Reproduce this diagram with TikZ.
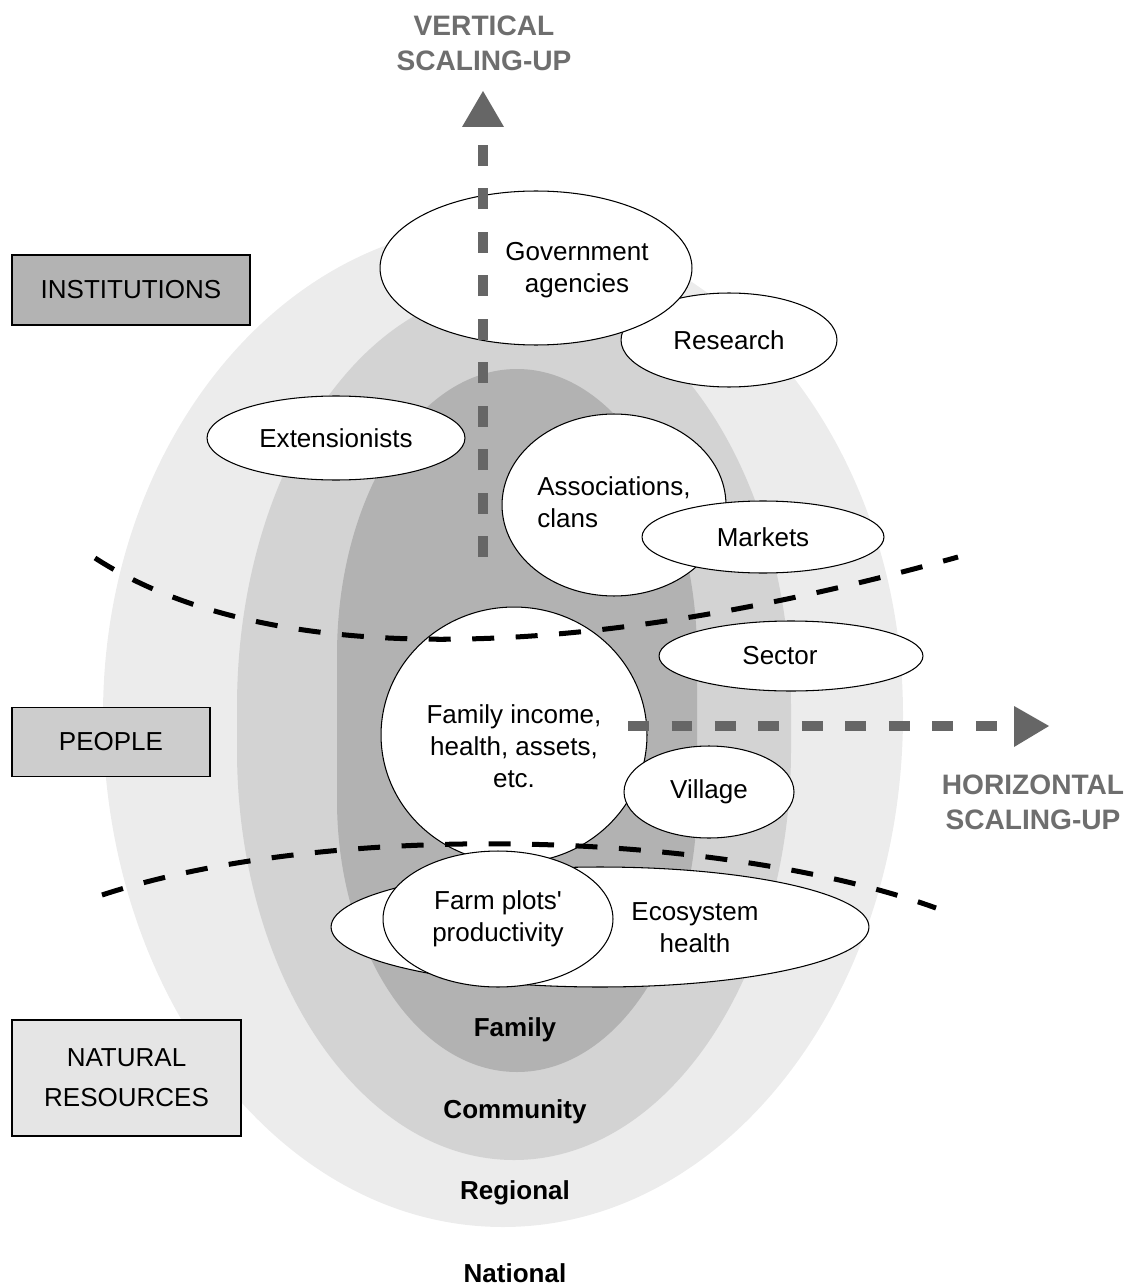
\documentclass[tikz,border=0pt]{standalone}
\usepackage{fontspec}
\setmainfont{Liberation Sans}[Ligatures=TeXOff]
\usetikzlibrary{shapes.geometric}
\definecolor{ringA}{HTML}{ECECEC}
\definecolor{ringB}{HTML}{D3D3D3}
\definecolor{ringC}{HTML}{B2B2B2}
\definecolor{boxA}{HTML}{B3B3B3}
\definecolor{boxB}{HTML}{CDCDCD}
\definecolor{boxC}{HTML}{E5E5E5}
\definecolor{arrowgray}{HTML}{666666}
\definecolor{labelgray}{HTML}{6E6E6E}
\begin{document}
\begin{tikzpicture}[x=0.02cm,y=-0.02cm,
  every node/.style={font=\fontsize{14.8}{18.2}\selectfont},
  blob/.style={ellipse, draw=black, line width=0.6pt, fill=white, inner sep=0pt, align=center},
  txt/.style={align=center, inner sep=0pt},
  sidebox/.style={rectangle, draw=black, line width=0.6pt, inner sep=0pt, align=center},
  ringlabel/.style={font=\fontsize{14.8}{18.2}\selectfont\bfseries, inner sep=0pt},
  scalelabel/.style={font=\fontsize{16}{19.9}\selectfont\bfseries, text=labelgray, align=center, inner sep=0pt},
  bandline/.style={black, line width=2.85pt, dash pattern=on 0.44cm off 0.43cm},
  scaleline/.style={arrowgray, line width=5.7pt, dash pattern=on 0.42cm off 0.45cm},
]
\useasboundingbox (0,0) rectangle (1132,1287);

% nested levels
\fill[ringA] (103,715) arc[start angle=180,end angle=360,x radius=400,y radius=491]
  arc[start angle=0,end angle=180,x radius=400,y radius=512] -- cycle;
\fill[ringB] (237,707) arc[start angle=180,end angle=360,x radius=277,y radius=419]
  -- (791,750) arc[start angle=0,end angle=180,x radius=277,y radius=410] -- cycle;
\fill[ringC] (337,655) arc[start angle=180,end angle=360,x radius=180,y radius=286]
  -- (697,800) arc[start angle=0,end angle=180,x radius=180,y radius=272] -- cycle;

% level names
\node[ringlabel] (lfamily) at (515,1030) {Family};
\node[ringlabel] (lcommunity) at (515,1112) {Community};
\node[ringlabel] (lregional) at (515,1193) {Regional};
\node[ringlabel] (lnational) at (515,1273) {National};

% side boxes
\node[sidebox, fill=boxA, minimum width=4.76cm, minimum height=1.40cm] (inst) at (131,290) {INSTITUTIONS};
\node[sidebox, fill=boxB, minimum width=3.96cm, minimum height=1.38cm] (people) at (111,742) {PEOPLE};
\node[sidebox, fill=boxC, minimum width=4.58cm, minimum height=2.32cm, font=\fontsize{14.8}{22.7}\selectfont] (natural) at (126.5,1078) {NATURAL\\RESOURCES};

% actors
\node[blob, minimum width=4.32cm, minimum height=1.88cm] (research) at (729,340) {Research};
\node[blob, minimum width=6.24cm, minimum height=3.08cm] (gov) at (536,268) {};
\node[txt] (govtext) at (577,270) {Government\\agencies};
\node[blob, minimum width=5.16cm, minimum height=1.68cm] (ext) at (336,438) {Extensionists};
\node[blob, minimum width=4.48cm, minimum height=3.64cm] (assoc) at (614,505) {};
\node[txt, align=left, anchor=west] (assoctext) at (537,502) {Associations,\\clans};
\node[blob, minimum width=4.84cm, minimum height=1.44cm] (markets) at (763,537) {Markets};
\node[blob, minimum width=5.28cm, minimum height=1.40cm] (sector) at (791,656) {};
\node[txt] (sectortext) at (780,656) {Sector};
\node[blob, minimum width=5.32cm, minimum height=5.12cm] (family) at (514,735) {};
\node[txt] (familytext) at (514,746) {Family income,\\health, assets,\\etc.};
\node[blob, minimum width=3.40cm, minimum height=1.84cm] (village) at (709,792) {Village};
\node[blob, minimum width=10.76cm, minimum height=2.40cm] (eco) at (600,927) {};
\node[txt] (ecotext) at (695,928) {Ecosystem\\health};
\node[blob, minimum width=4.60cm, minimum height=2.72cm] (farm) at (498,919) {Farm plots'\\productivity};

% boundaries between institutions / people / natural resources
\coordinate (u1) at (95,558);
\coordinate (u2) at (958,557);
\draw[bandline] (u1) .. controls (260,665) and (560,668) .. (u2);
\coordinate (l1) at (102,895);
\coordinate (l2) at (936,908);
\draw[bandline] (l1) .. controls (330,820) and (720,830) .. (l2);

% scaling-up arrows
\coordinate (vbase) at (483,557);
\coordinate (vtop) at (483,143);
\draw[scaleline] (vbase) -- (vtop);
\fill[arrowgray] (483,91) -- (504,127) -- (462,127) -- cycle;
\coordinate (hbase) at (628,726);
\coordinate (htip) at (1001,726);
\draw[scaleline] (hbase) -- (htip);
\fill[arrowgray] (1049,726) -- (1014,706) -- (1014,747) -- cycle;

\node[scalelabel] (vlabel) at (484,43) {VERTICAL\\SCALING-UP};
\node[scalelabel] (hlabel) at (1033,802) {HORIZONTAL\\SCALING-UP};
\end{tikzpicture}
\end{document}
